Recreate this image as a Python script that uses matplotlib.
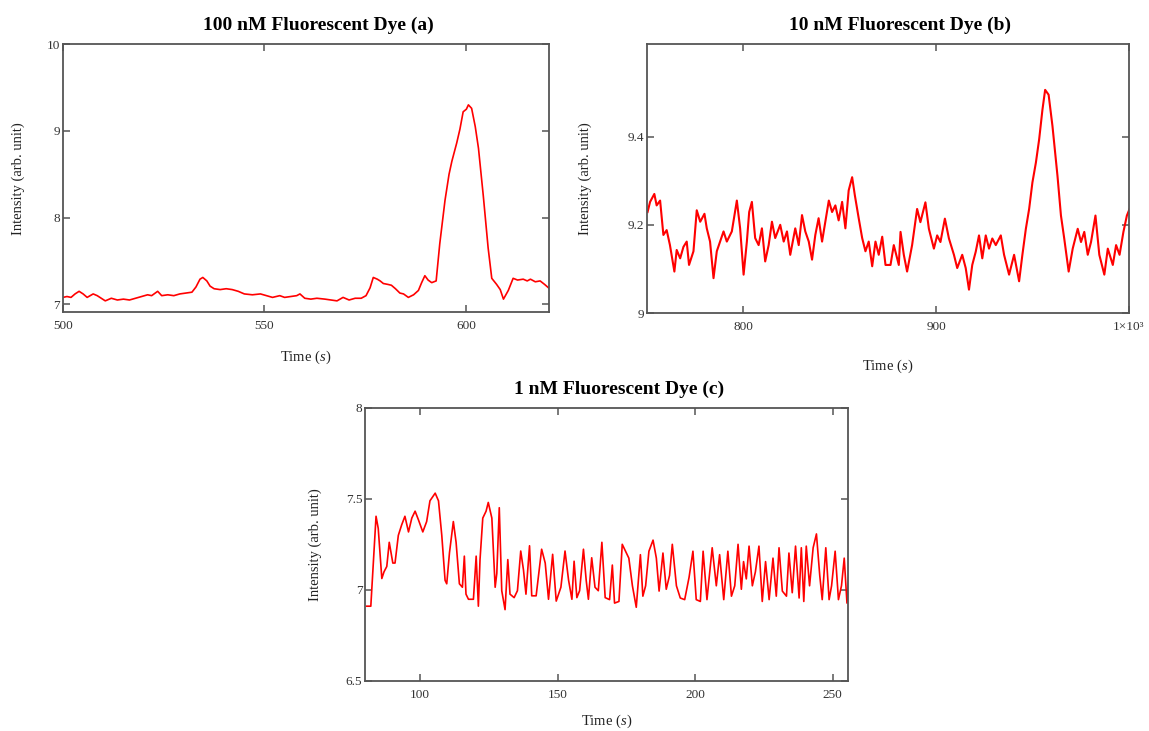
import numpy as np
import matplotlib
matplotlib.use('Agg')
import matplotlib.pyplot as plt
from matplotlib.ticker import FixedLocator, FixedFormatter

plt.rcParams['font.family'] = ['Liberation Serif', 'DejaVu Serif']
plt.rcParams['mathtext.fontset'] = 'custom'
plt.rcParams['mathtext.rm'] = 'Liberation Serif'
plt.rcParams['mathtext.it'] = 'Liberation Serif:italic'

# panel (a): 100 nM dye
time_a = [500, 501, 502, 503, 504, 505, 506, 507.5, 508.5, 509.5, 510.5, 512, 513.5, 515, 516.5,
          518, 519.5, 521, 522, 523.5, 524.5, 526, 527.5, 529, 530.5, 532, 533, 534, 534.7, 535.7,
          536.5, 537.5, 539, 540.5, 542, 543.5, 545, 547, 549, 550.5, 552, 553.8, 555, 556.5, 558,
          558.8, 560, 561.5, 563, 565, 566.5, 568, 569.5, 571, 572.5, 574, 575.2, 576.2, 577, 578,
          578.7, 579.5, 580.6, 581.5, 582.5, 583.6, 584.5, 585.7, 587, 588.2, 589, 589.8, 590.6,
          591.5, 592.6, 593.5, 594.8, 595.8, 596.5, 597.7, 598.5, 599.3, 600.1, 600.6, 601.4, 602.3,
          603.1, 604.3, 605.5, 606.4, 607.6, 608.5, 609.3, 610.5, 611.7, 612.8, 614.2, 615.2, 616.0,
          617.2, 618.4, 619.5, 620.5]
intensity_a = [7.08, 7.09, 7.08, 7.12, 7.15, 7.12, 7.08, 7.12, 7.10, 7.07, 7.04, 7.07, 7.05, 7.06, 7.05,
               7.07, 7.09, 7.11, 7.10, 7.15, 7.10, 7.11, 7.10, 7.12, 7.13, 7.14, 7.20, 7.29, 7.31, 7.27,
               7.21, 7.18, 7.17, 7.18, 7.17, 7.15, 7.12, 7.11, 7.12, 7.10, 7.08, 7.10, 7.08, 7.09, 7.10,
               7.12, 7.07, 7.06, 7.07, 7.06, 7.05, 7.04, 7.08, 7.05, 7.07, 7.07, 7.10, 7.19, 7.31, 7.29,
               7.27, 7.24, 7.23, 7.22, 7.18, 7.13, 7.12, 7.08, 7.11, 7.16, 7.25, 7.33, 7.28,
               7.25, 7.27, 7.70, 8.20, 8.50, 8.65, 8.86, 9.02, 9.22, 9.25, 9.30, 9.26, 9.05,
               8.80, 8.25, 7.65, 7.30, 7.23, 7.17, 7.06, 7.16, 7.30, 7.28, 7.29, 7.27, 7.29,
               7.26, 7.27, 7.23, 7.19]

# panel (b): 10 nM dye
time_b = [750.3, 751.6, 753.8, 755.0, 756.8, 758.5, 760.2, 761.9, 764.2, 765.4, 767.2, 768.9, 770.6,
          771.8, 774.1, 775.8, 777.6, 779.8, 781.0, 782.7, 784.5, 786.2, 787.9, 789.7, 791.4, 794.0,
          796.6, 798.3, 800.1, 801.8, 803.0, 804.4, 806.1, 807.9, 809.6, 811.3, 813.1, 814.8, 816.5,
          819.1, 820.9, 822.6, 824.3, 826.9, 828.7, 830.4, 832.1, 833.9, 835.6, 837.3, 839.0, 840.8,
          842.5, 844.3, 846.0, 847.7, 849.4, 851.2, 852.9, 854.6, 856.4, 857.8, 859.8, 861.6, 863.3,
          865.0, 866.8, 868.5, 870.2, 872.0, 873.7, 876.3, 878.0, 880.6, 881.5, 883.2, 884.9, 887.5,
          890.1, 891.8, 894.4, 896.2, 898.8, 900.5, 902.2, 904.5, 906.6, 909.2, 910.9, 913.5, 915.3,
          917.0, 918.7, 920.5, 922.2, 923.9, 925.7, 927.4, 929.1, 930.9, 933.5, 935.2, 937.8, 940.4,
          943.0, 944.7, 946.5, 948.2, 949.9, 951.7, 953.4, 955.1, 956.5, 958.3, 960.3, 962.9, 964.7,
          966.4, 968.7, 970.8, 973.4, 975.1, 976.8, 978.6, 980.3, 982.6, 984.6, 987.2, 989.0, 991.6,
          993.3, 995.1, 997.1, 998.9, 1000.3]
intensity_b = [9.229, 9.252, 9.270, 9.244, 9.255, 9.177, 9.188, 9.154, 9.094, 9.143, 9.124, 9.150, 9.162,
               9.109, 9.140, 9.233, 9.207, 9.225, 9.192, 9.162, 9.079, 9.140, 9.162, 9.185, 9.162, 9.185,
               9.255, 9.192, 9.087, 9.162, 9.229, 9.252, 9.170, 9.154, 9.192, 9.117, 9.154, 9.207, 9.170,
               9.200, 9.162, 9.185, 9.132, 9.192, 9.154, 9.222, 9.185, 9.162, 9.121, 9.177, 9.215, 9.162,
               9.207, 9.255, 9.229, 9.244, 9.210, 9.252, 9.192, 9.278, 9.308, 9.267, 9.215, 9.170, 9.140,
               9.162, 9.106, 9.162, 9.132, 9.173, 9.109, 9.109, 9.154, 9.109, 9.184, 9.132, 9.094, 9.154,
               9.236, 9.206, 9.251, 9.191, 9.146, 9.176, 9.161, 9.214, 9.169, 9.132, 9.102, 9.132, 9.102,
               9.053, 9.109, 9.139, 9.176, 9.124, 9.176, 9.146, 9.169, 9.154, 9.176, 9.132, 9.087, 9.132,
               9.072, 9.132, 9.191, 9.236, 9.296, 9.341, 9.394, 9.461, 9.506, 9.495, 9.424, 9.311, 9.221,
               9.169, 9.094, 9.146, 9.191, 9.161, 9.184, 9.132, 9.161, 9.221, 9.132, 9.087, 9.146, 9.109,
               9.154, 9.132, 9.184, 9.221, 9.236]

# panel (c): 1 nM dye
time_c = [80.6, 82.1, 82.8, 84.0, 84.8, 86.1, 86.9, 87.9, 88.8, 90.1, 90.9, 92.1, 93.3, 94.5, 95.8,
          97.0, 98.2, 99.4, 101.0, 102.4, 103.6, 105.5, 106.7, 107.9, 109.1, 109.7, 110.7, 112.1,
          113.1, 114.3, 115.4, 116.1, 116.7, 117.6, 119.4, 120.4, 121.2, 121.8, 122.8, 124.0, 124.8,
          126.1, 127.3, 127.9, 128.8, 129.7, 130.9, 131.9, 132.7, 134.2, 135.4, 136.6, 137.6, 138.5,
          139.8, 140.6, 142.2, 144.2, 145.5, 146.7, 148.2, 149.5, 151.2, 152.7, 154.0, 155.2, 156.0,
          157.0, 158.0, 159.4, 160.4, 161.2, 162.4, 163.6, 164.8, 166.1, 167.3, 168.9, 169.9, 170.7,
          172.3, 173.5, 174.7, 175.9, 177.2, 178.6, 180.1, 181.0, 182.0, 183.2, 184.7, 185.9, 186.9,
          188.3, 189.5, 190.7, 191.7, 193.2, 194.6, 196.2, 197.8, 199.2, 200.4, 201.9, 202.9, 204.3,
          206.2, 207.7, 208.9, 210.4, 211.9, 213.2, 214.4, 215.6, 216.8, 217.6, 218.6, 219.6, 220.8,
          221.9, 223.2, 224.4, 225.6, 226.9, 228.3, 229.5, 230.5, 231.7, 233.2, 234.1, 235.3, 236.5,
          237.8, 238.6, 239.5, 240.4, 241.6, 242.9, 244.1, 245.3, 246.2, 247.5, 248.7, 249.6, 250.9,
          252.1, 253.2, 254.2, 255.2, 255.9]
intensity_c = [6.911, 6.911, 7.091, 7.405, 7.338, 7.063, 7.100, 7.129, 7.262, 7.148, 7.148, 7.300, 7.357,
               7.405, 7.319, 7.395, 7.433, 7.386, 7.319, 7.376, 7.490, 7.532, 7.490, 7.300, 7.053, 7.034,
               7.205, 7.376, 7.262, 7.034, 7.015, 7.186, 6.977, 6.949, 6.949, 7.186, 6.911, 7.167, 7.395,
               7.433, 7.481, 7.395, 7.015, 7.091, 7.452, 6.996, 6.892, 7.167, 6.977, 6.958, 6.996, 7.214,
               7.110, 6.977, 7.243, 6.968, 6.968, 7.224, 7.148, 6.949, 7.196, 6.939, 7.015, 7.214, 7.053,
               6.949, 7.158, 6.958, 6.996, 7.224, 7.053, 6.949, 7.177, 7.015, 6.996, 7.262, 6.958, 6.947,
               7.137, 6.928, 6.937, 7.251, 7.213, 7.175, 7.023, 6.905, 7.194, 6.966, 7.023, 7.213, 7.274,
               7.175, 6.994, 7.203, 7.004, 7.080, 7.251, 7.023, 6.956, 6.947, 7.070, 7.213, 6.947, 6.937,
               7.213, 6.947, 7.232, 7.023, 7.194, 6.947, 7.213, 6.966, 7.023, 7.251, 7.004, 7.156, 7.061,
               7.241, 7.023, 7.099, 7.241, 6.937, 7.156, 6.947, 7.175, 6.966, 7.232, 6.994, 6.966, 7.203,
               6.985, 7.241, 6.956, 7.232, 6.937, 7.241, 7.023, 7.232, 7.308, 7.080, 6.947, 7.232, 6.947,
               7.023, 7.213, 6.947, 7.023, 7.175, 6.928, 7.080]

panels = [
    dict(t=time_a, y=intensity_a, title='100 nM Fluorescent Dye (a)', xlim=(500, 620.6), ylim=(6.91, 10),
         xticks=[500, 550, 600], xlabels=['500', '550', '600'],
         yticks=[7, 8, 9, 10], ylabels=['7', '8', '9', '10'],
         pos=[0.0548, 0.573, 0.423, 0.3666], lw=1.2, xlab=-37 / 268, ylab=-38 / 486),
    dict(t=time_b, y=intensity_b, title='10 nM Fluorescent Dye (b)', xlim=(750, 1000), ylim=(9, 9.61),
         xticks=[800, 900, 1000], xlabels=['800', '900', '1×10³'],
         yticks=[9, 9.2, 9.4], ylabels=['9', '9.2', '9.4'],
         pos=[0.5631, 0.5718, 0.4195, 0.368], lw=1.5, xlab=-45 / 269, ylab=-55 / 482),
    dict(t=time_c, y=intensity_c, title='1 nM Fluorescent Dye (c)', xlim=(80, 255.6), ylim=(6.5, 8),
         xticks=[100, 150, 200, 250], xlabels=['100', '150', '200', '250'],
         yticks=[6.5, 7, 7.5, 8], ylabels=['6.5', '7', '7.5', '8'],
         pos=[0.3177, 0.0684, 0.4204, 0.3735], lw=1.2, xlab=-32 / 273, ylab=-43 / 483),
]

fig = plt.figure(figsize=(11.49, 7.31), dpi=100)
edge = '#555555'
for p in panels:
    ax = fig.add_axes(p['pos'])
    ax.plot(p['t'], p['y'], color='#ff0000', lw=p['lw'])
    ax.set_xlim(*p['xlim'])
    ax.set_ylim(*p['ylim'])
    ax.xaxis.set_major_locator(FixedLocator(p['xticks']))
    ax.xaxis.set_major_formatter(FixedFormatter(p['xlabels']))
    ax.yaxis.set_major_locator(FixedLocator(p['yticks']))
    ax.yaxis.set_major_formatter(FixedFormatter(p['ylabels']))
    ax.tick_params(direction='in', top=True, right=True, length=5, width=1.1,
                   color=edge, labelsize=9.5, labelcolor='#333333')
    ax.tick_params(axis='x', pad=6)
    ax.tick_params(axis='y', pad=2)
    for s in ax.spines.values():
        s.set_color(edge)
        s.set_linewidth(1.3)
    # titles sit slightly right of the axes centre in the original
    ax.set_title(p['title'], fontsize=14, fontweight='bold', pad=10, x=0.525)
    ax.set_xlabel(r'Time ($\mathit{s}$)', fontsize=10.5, color='#222222')
    ax.set_ylabel('Intensity (arb. unit)', fontsize=10.5, color='#222222')
    ax.xaxis.set_label_coords(0.5, p['xlab'])
    ax.yaxis.set_label_coords(p['ylab'], 0.5)

fig.savefig('out.png', dpi=100)
